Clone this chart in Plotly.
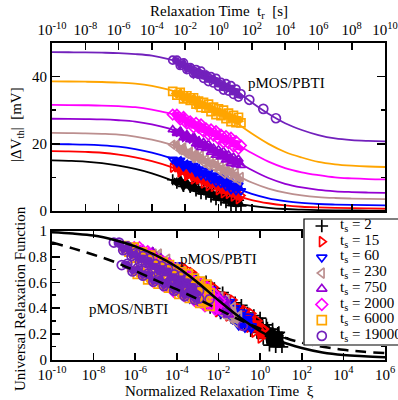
import plotly.graph_objects as go

# ---------------- data ----------------
TS = [2, 15, 60, 230, 750, 2000, 6000, 19000]
LABELS = ["t<sub>s</sub> = 2", "t<sub>s</sub> = 15", "t<sub>s</sub> = 60", "t<sub>s</sub> = 230",
          "t<sub>s</sub> = 750", "t<sub>s</sub> = 2000", "t<sub>s</sub> = 6000", "t<sub>s</sub> = 19000"]
COLORS = ["#000000", "#ff0000", "#0000ff", "rgb(188,143,143)", "rgb(148,0,211)",
          "#ff00ff", "#ffa500", "rgb(114,33,188)"]
SYMBOLS = ["cross-thin", "triangle-right-open", "triangle-down-open", "triangle-left-open",
           "triangle-up-open", "diamond-open", "square-open", "circle-open"]

# measured relaxation data (log10 of t_r in s) and |dVth| in mV
LOG_TR = [-2.75, -2.5, -2.3, -2.1, -1.9, -1.7, -1.5, -1.35, -1.2, -1.05, -0.9, -0.75, -0.6,
          -0.45, -0.3, -0.15, 0.0, 0.15, 0.3, 0.45, 0.6, 0.75, 0.9, 1.05, 1.2, 1.35]
DV_2 = [9.3, 8.3, 9.2, 7.3, 8.4, 7.0, 7.9, 6.0, 7.0, 5.2, 6.7, 5.0, 6.4, 4.2, 5.5, 3.4, 5.2, 3.2,
        4.9, 2.5, 4.1, 1.7, 3.6, 1.5, 3.2, 1.5]
DV_15 = [12.9, 13.0, 11.5, 12.3, 10.4, 11.1, 9.4, 10.7, 9.4, 10.3, 8.2, 9.2, 7.4, 9.0, 7.2, 8.6,
         6.2, 7.5, 5.3, 7.2, 5.1, 6.8, 4.3, 5.8, 3.5, 4.6]
DV_60 = [15.4, 14.3, 15.1, 13.2, 14.1, 12.7, 13.5, 11.6, 12.5, 10.6, 12.1, 10.4, 11.6, 9.4, 10.7,
         8.5, 10.2, 8.2, 9.8, 7.3, 8.9, 6.4, 8.3, 6.1, 7.7, 6.0]
DV_230 = [19.7, 19.7, 18.1, 18.9, 17.0, 17.6, 15.8, 17.0, 15.7, 16.6, 14.4, 15.4, 13.5, 15.1, 13.2,
          14.5, 12.2, 13.4, 11.1, 13.0, 10.8, 12.5, 9.9, 11.4, 9.1, 10.1]
DV_750 = [24.2, 23.1, 23.8, 21.8, 22.7, 21.2, 22.0, 20.0, 20.8, 18.9, 20.4, 18.6, 19.8, 17.5, 18.7,
          16.6, 18.2, 16.1, 17.7, 15.2, 16.7, 14.2, 16.0, 13.8, 15.4, 13.6]
DV_2000 = [28.7, 28.7, 27.2, 28.0, 26.0, 26.7, 24.9, 26.2, 24.8, 25.8, 23.6, 24.6, 22.7, 24.3, 22.4,
           23.8, 21.4, 22.7, 20.4, 22.3, 20.1, 21.8, 19.2, 20.8, 18.5, 19.5]
DV_6000 = [35.6, 34.5, 35.3, 33.4, 34.3, 32.9, 33.7, 31.8, 32.7, 30.8, 32.3, 30.6, 31.8, 29.6, 30.9,
           28.7, 30.4, 28.4, 30.0, 27.5, 29.1, 26.6, 28.5, 26.3, 27.9, 26.2]
DV_19000 = [44.9, 44.9, 43.3, 44.1, 42.1, 42.7, 40.9, 42.1, 40.7, 41.6, 39.5, 40.4, 38.5, 40.0, 38.1,
            39.5, 37.1, 38.3, 36.0, 37.9, 35.7, 37.3, 34.7, 36.3, 33.9, 34.9]
DV_ALL = [DV_2, DV_15, DV_60, DV_230, DV_750, DV_2000, DV_6000, DV_19000]

# sparse long-time points of the t_s = 19000 s series
LOG_TR_EXTRA = [1.85, 2.69, 3.45]
DV_EXTRA_19000 = [33.1, 30.4, 27.6]

# permanent and recoverable components (mV) used for normalisation
P_PERM = [0.0, 0.6, 1.5, 3.3, 5.1, 9.3, 13.0, 20.6]
R_REC = [15.2, 17.3, 18.5, 20.0, 22.4, 22.3, 25.6, 26.7]

# fitted curves in the upper panel (log10 t_r grid)
FIT_LOG_TR = [-10, -9, -8, -7, -6, -5, -4, -3, -2, -1, 0, 1, 2, 3, 4, 5, 6, 7, 8, 9, 10]
FIT_2 = [15.06, 14.93, 14.71, 14.24, 13.53, 12.52, 11.22, 9.48, 7.42, 5.41, 3.68, 2.37, 1.52, 0.94,
         0.59, 0.41, 0.29, 0.21, 0.16, 0.12, 0.08]
FIT_15 = [17.80, 17.74, 17.59, 17.34, 16.80, 15.98, 14.83, 13.34, 11.35, 8.99, 6.71, 4.75, 3.27,
          2.31, 1.66, 1.27, 1.06, 0.93, 0.84, 0.78, 0.73]
FIT_60 = [19.93, 19.86, 19.76, 19.54, 19.15, 18.41, 17.37, 15.95, 14.11, 11.77, 9.24, 6.95, 5.10,
          3.79, 2.96, 2.40, 2.09, 1.92, 1.80, 1.72, 1.67]
FIT_230 = [23.25, 23.20, 23.13, 22.97, 22.71, 22.15, 21.26, 20.00, 18.35, 16.16, 13.51, 10.84, 8.49,
           6.68, 5.46, 4.65, 4.14, 3.87, 3.71, 3.60, 3.52]
FIT_750 = [27.45, 27.42, 27.35, 27.25, 27.01, 26.62, 25.80, 24.62, 23.00, 20.91, 18.16, 15.05, 12.20,
           9.81, 8.10, 7.02, 6.28, 5.86, 5.64, 5.49, 5.38]
FIT_2000 = [31.56, 31.54, 31.48, 31.39, 31.20, 30.89, 30.20, 29.15, 27.68, 25.76, 23.22, 20.18,
            17.24, 14.70, 12.78, 11.53, 10.68, 10.0, 9.7, 9.5, 9.4]
FIT_6000 = [38.56, 38.54, 38.48, 38.39, 38.21, 37.89, 37.24, 36.14, 34.60, 32.54, 29.83, 26.50,
            23.05, 19.98, 17.57, 15.92, 14.6, 13.9, 13.5, 13.25, 13.1]
FIT_19000 = [47.27, 47.24, 47.21, 47.12, 46.99, 46.70, 46.21, 45.20, 43.78, 41.82, 39.28, 35.98,
             32.29, 28.91, 26.11, 24.11, 22.6, 21.6, 21.1, 20.85, 20.7]
FIT_ALL = [FIT_2, FIT_15, FIT_60, FIT_230, FIT_750, FIT_2000, FIT_6000, FIT_19000]

# universal relaxation functions (lower panel)
URF_LOG_XI = [-10, -9, -8, -7, -6, -5, -4, -3, -2, -1, 0, 1, 2, 3, 4, 5, 6]
URF_PBTI = [0.99, 0.98, 0.965, 0.93, 0.88, 0.81, 0.72, 0.60, 0.46, 0.33, 0.22, 0.14, 0.09, 0.055,
            0.035, 0.025, 0.018]
URF_NBTI = [0.91, 0.865, 0.815, 0.76, 0.69, 0.615, 0.545, 0.47, 0.39, 0.31, 0.24, 0.18, 0.13, 0.10,
            0.075, 0.06, 0.05]

# pMOS/NBTI normalised data (log10 t_r grid)
NBTI_LOG_TR = [-2.37, -2.1, -1.85, -1.6, -1.35, -1.1, -0.85, -0.6, -0.35, -0.1, 0.15, 0.4, 0.65,
               0.9, 1.15, 1.35]
NBTI_2 = [0.460, 0.405, 0.426, 0.363, 0.384, 0.330, 0.356, 0.288, 0.306, 0.243, 0.271, 0.214,
          0.244, 0.184, 0.204, 0.168]
NBTI_15 = [0.511, 0.511, 0.452, 0.479, 0.420, 0.436, 0.372, 0.394, 0.340, 0.366, 0.302, 0.315,
           0.252, 0.280, 0.227, 0.240]
NBTI_60 = [0.571, 0.516, 0.537, 0.474, 0.495, 0.441, 0.467, 0.409, 0.425, 0.361, 0.387, 0.329,
           0.355, 0.282, 0.299, 0.260]
NBTI_230 = [0.600, 0.600, 0.541, 0.567, 0.508, 0.525, 0.461, 0.482, 0.428, 0.455, 0.391, 0.412,
            0.348, 0.375, 0.321, 0.331]
NBTI_750 = [0.653, 0.598, 0.619, 0.556, 0.577, 0.523, 0.549, 0.491, 0.507, 0.443, 0.469, 0.411,
            0.437, 0.373, 0.389, 0.349]
NBTI_2000 = [0.670, 0.670, 0.611, 0.638, 0.579, 0.595, 0.531, 0.553, 0.499, 0.525, 0.461, 0.483,
             0.419, 0.445, 0.391, 0.401]
NBTI_6000 = [0.721, 0.666, 0.687, 0.624, 0.645, 0.591, 0.617, 0.559, 0.575, 0.511, 0.537, 0.479,
             0.505, 0.441, 0.457, 0.417]
NBTI_19000 = [0.735, 0.744, 0.685, 0.711, 0.652, 0.669, 0.605, 0.626, 0.572, 0.599, 0.535, 0.556,
              0.492, 0.519, 0.465, 0.475]
NBTI_ALL = [NBTI_2, NBTI_15, NBTI_60, NBTI_230, NBTI_750, NBTI_2000, NBTI_6000, NBTI_19000]

TOP_TICKS = [-10, -8, -6, -4, -2, 0, 2, 4, 6, 8, 10]
BOT_TICKS = [-10, -8, -6, -4, -2, 0, 2, 4, 6]

# ---------------- figure ----------------
W, H = 398, 400
FONT = "Liberation Serif"


def px(x):
    return x / W


def py(y):
    return 1 - y / H


fig = go.Figure()


def marker(i, size):
    return dict(symbol=SYMBOLS[i], size=size, color=COLORS[i],
                line=dict(color=COLORS[i], width=1.7))


# upper panel: fit lines
for i, ts in enumerate(TS):
    fig.add_trace(go.Scatter(
        x=[10 ** t for t in FIT_LOG_TR], y=FIT_ALL[i], mode="lines",
        line=dict(color=COLORS[i], width=1.8, shape="spline"),
        xaxis="x", yaxis="y", showlegend=False, hoverinfo="skip"))

# upper panel: data (dense measurement bands)
for i, ts in enumerate(TS):
    fig.add_trace(go.Scatter(x=[10 ** t for t in LOG_TR], y=DV_ALL[i], mode="lines+markers",
                             marker=marker(i, 8), line=dict(color=COLORS[i], width=6),
                             xaxis="x", yaxis="y", showlegend=False, name=LABELS[i]))
    if ts == 19000:
        fig.add_trace(go.Scatter(x=[10 ** t for t in LOG_TR_EXTRA], y=DV_EXTRA_19000,
                                 mode="markers", marker=marker(i, 9),
                                 xaxis="x", yaxis="y", showlegend=False))

# lower panel: normalised data
for i, ts in enumerate(TS):
    xs = [10 ** t / ts for t in LOG_TR]
    rs = [(v - P_PERM[i]) / R_REC[i] for v in DV_ALL[i]]
    xn = [10 ** t / ts for t in NBTI_LOG_TR]
    fig.add_trace(go.Scatter(x=xn, y=NBTI_ALL[i], mode="lines+markers", marker=marker(i, 9),
                             line=dict(color=COLORS[i], width=6),
                             xaxis="x2", yaxis="y2", showlegend=False))
    fig.add_trace(go.Scatter(x=xs, y=rs, mode="lines+markers", marker=marker(i, 9),
                             line=dict(color=COLORS[i], width=6),
                             xaxis="x2", yaxis="y2", showlegend=False))
    if ts == 19000:
        fig.add_trace(go.Scatter(x=[10 ** t / ts for t in LOG_TR_EXTRA],
                                 y=[(v - P_PERM[i]) / R_REC[i] for v in DV_EXTRA_19000],
                                 mode="markers", marker=marker(i, 9),
                                 xaxis="x2", yaxis="y2", showlegend=False))

fig.add_trace(go.Scatter(x=[10 ** t for t in URF_LOG_XI], y=URF_PBTI, mode="lines",
                         line=dict(color="black", width=2.5, shape="spline"),
                         xaxis="x2", yaxis="y2", showlegend=False))
fig.add_trace(go.Scatter(x=[10 ** t for t in URF_LOG_XI], y=URF_NBTI, mode="lines",
                         line=dict(color="black", width=2.5, shape="spline", dash="11px,7px"),
                         xaxis="x2", yaxis="y2", showlegend=False))

# legend (drawn on its own hidden axes)
LEG_Y0, LEG_DY = 7, 15.7
for i, ts in enumerate(TS):
    yy = LEG_Y0 + LEG_DY * i
    fig.add_trace(go.Scatter(x=[18], y=[yy], mode="markers", marker=marker(i, 9),
                             xaxis="x3", yaxis="y3", showlegend=False, hoverinfo="skip"))
    fig.add_annotation(x=34, y=yy - 1, xref="x3", yref="y3", text=LABELS[i], showarrow=False,
                       xanchor="left", yanchor="middle",
                       font=dict(family=FONT, size=15, color="black"))

fig.add_shape(type="rect", xref="x3", yref="y3", x0=0, x1=120, y0=0, y1=126,
              line=dict(color="black", width=1.2), fillcolor="white", layer="below")

axis_common = dict(showgrid=False, zeroline=False, showline=True, linecolor="black", linewidth=2,
                   ticks="inside", tickcolor="black", tickwidth=1.6, mirror="ticks",
                   automargin=False, tickfont=dict(family=FONT, size=15, color="black"))


def tt(v):
    return "10<sup>%d</sup>" % v


fig.update_layout(
    width=W, height=H, margin=dict(l=0, r=0, t=0, b=0, pad=0, autoexpand=False),
    paper_bgcolor="white", plot_bgcolor="white", showlegend=False,
    xaxis=dict(type="log", range=[-10, 10], domain=[px(52), px(385)], anchor="y", side="top",
               tickvals=[10 ** v for v in TOP_TICKS], ticktext=[tt(v) for v in TOP_TICKS],
               ticklen=7, **axis_common),
    yaxis=dict(range=[0, 50], domain=[py(211), py(43)], anchor="x", tick0=0, dtick=20, ticklen=8,
               minor=dict(dtick=10, ticks="inside", ticklen=4, tickwidth=1.6, tickcolor="black",
                          showgrid=False),
               **axis_common),
    xaxis2=dict(type="log", range=[-10, 6], domain=[px(52), px(385)], anchor="y2", side="bottom",
                tickvals=[10 ** v for v in BOT_TICKS], ticktext=[tt(v) for v in BOT_TICKS],
                ticklen=7, **axis_common),
    yaxis2=dict(range=[0, 1], domain=[py(359.5), py(231)], anchor="x2",
                tickvals=[0, 0.2, 0.4, 0.6, 0.8, 1.0], ticktext=["0", "0.2", "0.4", "0.6", "0.8", "1"],
                ticklen=8,
                minor=dict(tickvals=[0.1, 0.3, 0.5, 0.7, 0.9], ticks="inside", ticklen=4,
                           tickwidth=1.6, tickcolor="black", showgrid=False),
                **axis_common),
    xaxis3=dict(range=[-1, 95], domain=[px(303), 1.0], anchor="y3", visible=False, fixedrange=True),
    yaxis3=dict(range=[127, -1], domain=[py(346), py(218)], anchor="x3", visible=False,
                fixedrange=True),
)

ann_font = dict(family=FONT, size=15, color="black")
fig.add_annotation(x=px(219), y=py(12), xref="paper", yref="paper", showarrow=False,
                   text="Relaxation Time  t<sub>r</sub>  [s]", font=ann_font,
                   xanchor="center", yanchor="middle")
fig.add_annotation(x=px(17), y=py(125), xref="paper", yref="paper", showarrow=False,
                   text="|ΔV<sub>th</sub>|  [mV]", font=ann_font, textangle=-90,
                   xanchor="center", yanchor="middle")
fig.add_annotation(x=px(20), y=py(299), xref="paper", yref="paper", showarrow=False,
                   text="Universal Relaxation Function", font=ann_font, textangle=-90,
                   xanchor="center", yanchor="middle")
fig.add_annotation(x=px(219), y=py(391), xref="paper", yref="paper", showarrow=False,
                   text="Normalized Relaxation Time  ξ", font=ann_font,
                   xanchor="center", yanchor="middle")
fig.add_annotation(x=px(286), y=py(83), xref="paper", yref="paper", showarrow=False,
                   text="pMOS/PBTI", font=ann_font, xanchor="center", yanchor="middle")
fig.add_annotation(x=px(218), y=py(259), xref="paper", yref="paper", showarrow=False,
                   text="pMOS/PBTI", font=ann_font, xanchor="center", yanchor="middle")
fig.add_annotation(x=px(128), y=py(309), xref="paper", yref="paper", showarrow=False,
                   text="pMOS/NBTI", font=ann_font, xanchor="center", yanchor="middle")

fig.write_html("out.html", config={"displayModeBar": False, "staticPlot": True},
               post_script="document.body.style.margin='0';document.body.style.overflow='hidden';")
